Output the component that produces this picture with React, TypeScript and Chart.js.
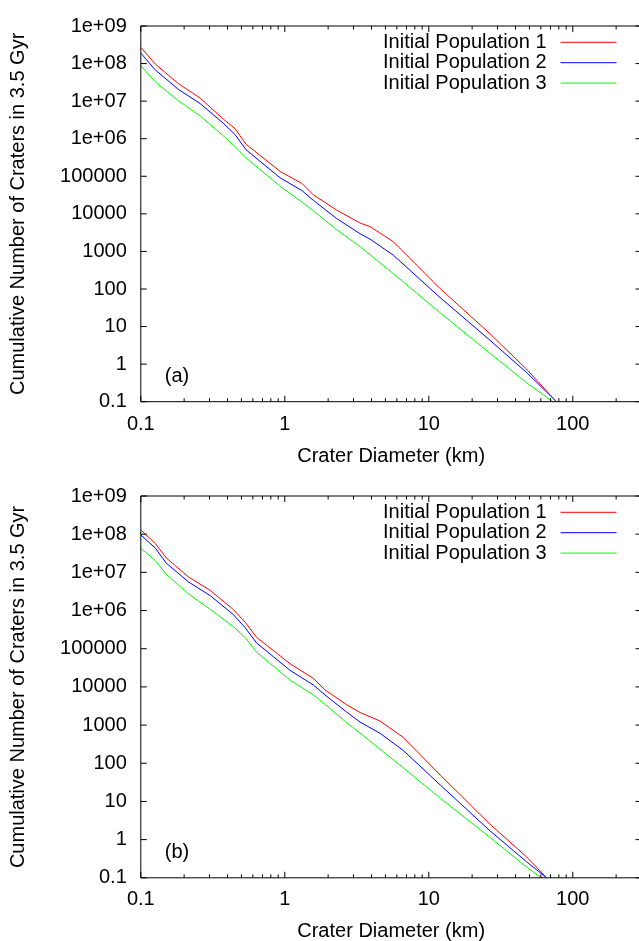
import React, { useEffect, useRef } from "react";
import { Chart, registerables } from "chart.js";

Chart.register(...registerables);

// ---------- data ----------
const seriesNames = ["Initial Population 1", "Initial Population 2", "Initial Population 3"];
const seriesColors = ["#ff0000", "#0000ff", "#00ff00"];
const panelLabels = ["(a)", "(b)"];

const xTitle = "Crater Diameter (km)";
const yTitle = "Cumulative Number of Craters in 3.5 Gyr";

const xTickValues = [0.1, 1, 10, 100];
const xTickLabels = ["0.1", "1", "10", "100"];
const yTickValues = [0.1, 1, 10, 100, 1000, 1e4, 1e5, 1e6, 1e7, 1e8, 1e9];
const yTickLabels = ["0.1", "1", "10", "100", "1000", "10000", "100000", "1e+06", "1e+07", "1e+08", "1e+09"];

// panel (a)
const diametersA = [0.1, 0.126, 0.182, 0.258, 0.374, 0.451, 0.538, 0.927, 1.32, 1.58, 2.29, 3.33, 3.91, 5.67, 12.0, 26.6, 47.9, 77];
const pop1A = [2.71e8, 9.68e7, 2.95e7, 1.21e7, 3.34e6, 1.85e6, 7.13e5, 1.35e5, 6.37e4, 3.19e4, 1.26e4, 5700, 4580, 1810, 102, 6.46, 0.72, 0.1];
const pop2A = [1.9e8, 6.78e7, 2.07e7, 8.65e6, 2.58e6, 1.29e6, 5.08e5, 9.12e4, 4.12e4, 2.28e4, 7520, 2960, 2120, 794, 58.9, 4.32, 0.594, 0.1];
const pop3A = [8.75e7, 3.26e7, 1.03e7, 4.07e6, 1.19e6, 6.17e5, 3.1e5, 5.43e4, 2.04e4, 1.2e4, 3800, 1340, 813, 257, 23.2, 1.95, 0.316, 0.085];

// panel (b)
const diametersB = [0.1, 0.126, 0.15, 0.214, 0.305, 0.439, 0.53, 0.638, 1.086, 1.58, 1.9, 2.69, 3.33, 4.58, 6.65, 12.0, 26.6, 47.9, 65.9];
const pop1B = [1.29e8, 5.71e7, 2.4e7, 7.6e6, 3.32e6, 1.06e6, 4.98e5, 1.97e5, 4.06e4, 1.67e4, 8320, 3420, 2140, 1280, 474, 49, 2.53, 0.349, 0.1];
const pop2B = [9.55e7, 4.35e7, 1.75e7, 5.65e6, 2.42e6, 7.85e5, 3.57e5, 1.41e5, 2.72e4, 1.12e4, 6180, 2190, 1200, 612, 216, 27.1, 1.7, 0.26, 0.1];
const pop3B = [4.25e7, 2.05e7, 8.93e6, 2.73e6, 1.06e6, 3.78e5, 1.97e5, 8.11e4, 1.51e4, 6180, 3510, 1150, 617, 234, 75.9, 12.2, 1.14, 0.19, 0.079];

const FONT_FAMILY = '"Liberation Sans", Arial, sans-serif';
const FONT_SIZE = 20;

// ---------- gnuplot-style frame, ticks, key and panel label ----------
const gnuplotFrame = {
  id: "gnuplotFrame",
  afterDatasetsDraw(chart: any, _args: any, opts: any) {
    const { ctx, chartArea: a, scales } = chart;
    const xs = scales.x;
    const ys = scales.y;
    ctx.save();
    ctx.strokeStyle = "#000";
    ctx.lineWidth = 1;
    ctx.beginPath();
    ctx.rect(a.left, a.top, a.right - a.left, a.bottom - a.top);
    for (let e = -1; e <= 2; e++) {
      for (let k = 1; k <= 9; k++) {
        const v = k * Math.pow(10, e);
        if (v < xs.min * 0.999 || v > xs.max * 1.001) continue;
        const px = xs.getPixelForValue(v);
        const len = k === 1 ? 6 : 3.5;
        ctx.moveTo(px, a.bottom);
        ctx.lineTo(px, a.bottom - len);
        ctx.moveTo(px, a.top);
        ctx.lineTo(px, a.top + len);
      }
    }
    for (const v of yTickValues) {
      const py = ys.getPixelForValue(v);
      ctx.moveTo(a.left, py);
      ctx.lineTo(a.left + 6, py);
      ctx.moveTo(a.right, py);
      ctx.lineTo(a.right - 6, py);
    }
    ctx.stroke();

    // key
    ctx.font = `${FONT_SIZE}px ${FONT_FAMILY}`;
    ctx.textBaseline = "middle";
    chart.data.datasets.forEach((ds: any, i: number) => {
      const rowY = a.top + 16.3 + i * 20.4;
      ctx.fillStyle = "#000";
      ctx.textAlign = "right";
      ctx.fillText(ds.label, a.right - 95, rowY);
      ctx.strokeStyle = ds.borderColor;
      ctx.beginPath();
      ctx.moveTo(a.right - 81, rowY);
      ctx.lineTo(a.right - 25, rowY);
      ctx.stroke();
    });

    // panel label
    ctx.fillStyle = "#000";
    ctx.textAlign = "left";
    ctx.fillText(opts.panel, a.left + 24, a.bottom - 25);
    ctx.restore();
  },
};

type PanelProps = {
  diameters: number[];
  series: number[][];
  panel: string;
  top: number;
  height: number;
  padTop: number;
  xAxisHeight: number;
  xTickPad: number;
  xTitlePad: number;
};

const CANVAS_W = 660;

function Panel(props: PanelProps) {
  const ref = useRef<HTMLCanvasElement | null>(null);
  useEffect(() => {
    if (!ref.current) return;
    const font = { family: FONT_FAMILY, size: FONT_SIZE };
    const chart = new Chart(ref.current, {
      type: "line",
      data: {
        datasets: props.series.map((vals, i) => ({
          label: seriesNames[i],
          data: props.diameters.map((d, j) => ({ x: d, y: vals[j] })),
          borderColor: seriesColors[i],
          backgroundColor: seriesColors[i],
          borderWidth: 1,
          pointRadius: 0,
          tension: 0,
          fill: false,
          clip: 0,
        })),
      },
      options: {
        animation: false,
        responsive: false,
        events: [],
        layout: { padding: { top: props.padTop, right: CANVAS_W - 641.5, left: 0, bottom: 0 } },
        plugins: {
          legend: { display: false },
          tooltip: { enabled: false },
          gnuplotFrame: { panel: props.panel },
        } as any,
        scales: {
          x: {
            type: "logarithmic",
            min: 0.1,
            max: 300,
            grid: { display: false, drawTicks: false },
            border: { display: false },
            afterBuildTicks: (s: any) => {
              s.ticks = xTickValues.map((v) => ({ value: v }));
            },
            afterFit: (s: any) => {
              s.height = props.xAxisHeight;
            },
            ticks: {
              autoSkip: false,
              maxRotation: 0,
              padding: props.xTickPad,
              color: "#000",
              font,
              callback: (_v: any, i: number) => xTickLabels[i],
            },
            title: {
              display: true,
              text: xTitle,
              color: "#000",
              font,
              padding: { top: 0, bottom: props.xTitlePad },
            },
          },
          y: {
            type: "logarithmic",
            min: 0.1,
            max: 1e9,
            grid: { display: false, drawTicks: false },
            border: { display: false },
            afterBuildTicks: (s: any) => {
              s.ticks = yTickValues.map((v) => ({ value: v }));
            },
            afterFit: (s: any) => {
              s.width = 140.8;
            },
            ticks: {
              autoSkip: false,
              padding: 14,
              color: "#000",
              font,
              callback: (_v: any, i: number) => yTickLabels[i],
            },
            title: {
              display: true,
              text: yTitle,
              color: "#000",
              font,
              padding: { top: 6, bottom: 0 },
            },
          },
        },
      } as any,
      plugins: [gnuplotFrame as any],
    });
    return () => chart.destroy();
  }, []);
  return (
    <canvas
      ref={ref}
      width={CANVAS_W}
      height={props.height}
      style={{ position: "absolute", left: 0, top: props.top, width: CANVAS_W, height: props.height }}
    />
  );
}

export default function App() {
  return (
    <div
      style={{
        position: "absolute",
        left: 0,
        top: 0,
        width: 639,
        height: 941,
        overflow: "hidden",
        background: "#fff",
      }}
    >
      <Panel
        diameters={diametersA}
        series={[pop1A, pop2A, pop3A]}
        panel={panelLabels[0]}
        top={0}
        height={470}
        padTop={14}
        xAxisHeight={68.3}
        xTickPad={11}
        xTitlePad={2}
      />
      <Panel
        diameters={diametersB}
        series={[pop1B, pop2B, pop3B]}
        panel={panelLabels[1]}
        top={470}
        height={480}
        padTop={19.4}
        xAxisHeight={72.2}
        xTickPad={10}
        xTitlePad={7}
      />
    </div>
  );
}
